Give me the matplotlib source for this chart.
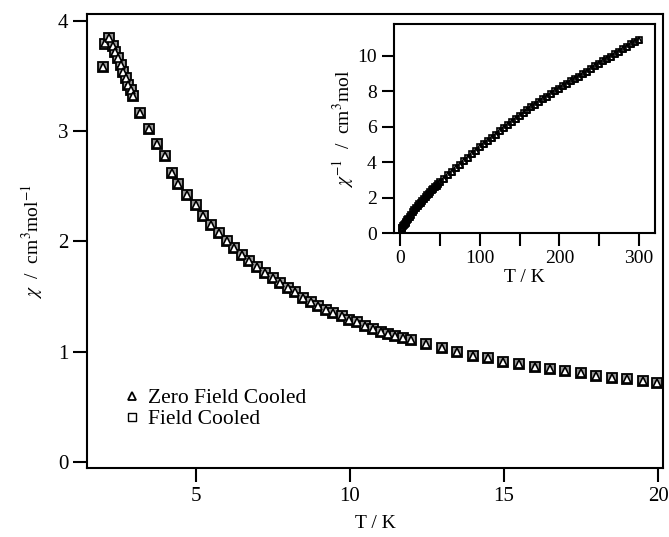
import matplotlib.pyplot as plt
from matplotlib.ticker import MultipleLocator

plt.rcParams['font.family'] = ['Liberation Serif', 'DejaVu Serif']
plt.rcParams['mathtext.fontset'] = 'stix'

# main plot: chi vs T (K)
temp = [1.98, 2.05, 2.18, 2.30, 2.37, 2.48, 2.55, 2.64, 2.73, 2.80, 2.88, 2.94,
        3.18, 3.48, 3.72, 3.99, 4.21, 4.43, 4.70, 5.00, 5.24, 5.49, 5.75, 6.00,
        6.23, 6.48, 6.73, 6.99, 7.24, 7.49, 7.73, 7.98, 8.21, 8.48, 8.72, 8.97,
        9.22, 9.46, 9.73, 9.98, 10.22, 10.49, 10.76, 11.00, 11.24, 11.46, 11.71,
        11.97, 12.47, 12.98, 13.48, 14.00, 14.49, 14.98, 15.50, 16.00, 16.49,
        16.98, 17.50, 18.00, 18.50, 19.00, 19.50, 19.98]
chi_zfc = [3.58, 3.80, 3.84, 3.77, 3.72, 3.66, 3.60, 3.54, 3.48, 3.42, 3.37, 3.32,
           3.16, 3.02, 2.88, 2.77, 2.62, 2.52, 2.42, 2.33, 2.23, 2.15, 2.08, 2.00,
           1.94, 1.88, 1.82, 1.77, 1.71, 1.67, 1.62, 1.58, 1.54, 1.49, 1.45, 1.41,
           1.38, 1.35, 1.32, 1.29, 1.27, 1.23, 1.21, 1.18, 1.16, 1.14, 1.12,
           1.11, 1.07, 1.03, 1.00, 0.965, 0.94, 0.91, 0.89, 0.865, 0.845,
           0.825, 0.805, 0.78, 0.76, 0.75, 0.737, 0.72]
chi_fc = [3.58, 3.79, 3.84, 3.77, 3.72, 3.66, 3.60, 3.54, 3.48, 3.42, 3.37, 3.32,
          3.16, 3.02, 2.88, 2.77, 2.62, 2.52, 2.42, 2.33, 2.23, 2.15, 2.08, 2.00,
          1.94, 1.88, 1.82, 1.77, 1.71, 1.67, 1.62, 1.58, 1.54, 1.49, 1.45, 1.41,
          1.38, 1.35, 1.32, 1.29, 1.27, 1.23, 1.21, 1.18, 1.16, 1.14, 1.12,
          1.11, 1.07, 1.03, 1.00, 0.965, 0.94, 0.91, 0.89, 0.865, 0.845,
          0.825, 0.805, 0.78, 0.76, 0.75, 0.737, 0.72]

# inset: inverse chi vs T up to 300 K
temp_inv = [2, 3, 4, 5, 6, 7, 8, 9, 10, 12, 14, 16, 18, 20, 22, 24, 26, 28, 30,
            32, 34, 36, 38, 40, 42, 44, 46, 48, 50, 55, 60, 65, 70, 75, 80, 85,
            90, 95, 100, 105, 110, 115, 120, 125, 130, 135, 140, 145, 150, 155,
            160, 165, 170, 175, 180, 185, 190, 195, 200, 205, 210, 215, 220, 225,
            230, 235, 240, 245, 250, 255, 260, 265, 270, 275, 280, 285, 290, 295, 300]
inv_chi = [0.27, 0.31, 0.37, 0.43, 0.50, 0.57, 0.64, 0.71, 0.78, 0.91, 1.04, 1.16,
           1.28, 1.39, 1.50, 1.61, 1.72, 1.82, 1.92, 2.02, 2.12, 2.22, 2.31, 2.40,
           2.49, 2.58, 2.67, 2.76, 2.85, 3.05, 3.25, 3.45, 3.65, 3.85, 4.05, 4.25,
           4.44, 4.63, 4.83, 5.01, 5.19, 5.37, 5.55, 5.73, 5.91, 6.09, 6.27, 6.45,
           6.62, 6.78, 6.94, 7.09, 7.24, 7.39, 7.54, 7.69, 7.84, 7.98, 8.12, 8.26,
           8.40, 8.54, 8.68, 8.82, 8.96, 9.10, 9.24, 9.39, 9.53, 9.67, 9.81, 9.94,
           10.08, 10.22, 10.36, 10.49, 10.63, 10.77, 10.90]

fig = plt.figure(figsize=(6.69, 5.37), dpi=100)
ax = fig.add_axes([0.130, 0.1285, 0.861, 0.845])

ax.plot(temp, chi_fc, 's', ms=7, mfc='#999999', mec='black', mew=1.3, label='Field Cooled')
ax.plot(temp, chi_zfc, '^', ms=5.5, mfc='white', mec='black', mew=1.2, label='Zero Field Cooled')

ax.set_xlim(1.46, 20.16)
ax.set_ylim(-0.055, 4.06)
ax.xaxis.set_major_locator(MultipleLocator(5))
ax.yaxis.set_major_locator(MultipleLocator(1))
ax.tick_params(direction='out', length=10, width=1.5, labelsize=15)
for s in ax.spines.values():
    s.set_linewidth(1.5)
ax.set_xlabel('T / K', fontsize=14, labelpad=7)
ax.set_ylabel(r'$\chi$  /  cm$^{3}$mol$^{-1}$', fontsize=14, labelpad=9)

# legend with open markers, ZFC first
h_zfc = plt.Line2D([], [], ls='none', marker='^', ms=6, mfc='white', mec='black', mew=1.3)
h_fc = plt.Line2D([], [], ls='none', marker='s', ms=6, mfc='white', mec='black', mew=1.0)
ax.legend([h_zfc, h_fc], ['Zero Field Cooled', 'Field Cooled'], loc='upper left',
          bbox_to_anchor=(0.04, 0.2), frameon=False, fontsize=15.5,
          handletextpad=0.25, labelspacing=0.05, handlelength=1.0, borderpad=0)

# inset
ins = fig.add_axes([0.589, 0.566, 0.390, 0.389])
ins.plot(temp_inv, inv_chi, 's', ms=5, mfc='none', mec='black', mew=1.2)
ins.plot(temp_inv, inv_chi, '^', ms=5, mfc='none', mec='black', mew=1.2)
ins.set_xlim(-7.5, 320)
ins.set_ylim(0, 11.77)
ins.xaxis.set_major_locator(MultipleLocator(100))
ins.xaxis.set_minor_locator(MultipleLocator(50))
ins.yaxis.set_major_locator(MultipleLocator(2))
ins.tick_params(which='both', direction='out', length=9, width=1.5, labelsize=14)
for s in ins.spines.values():
    s.set_linewidth(1.5)
ins.set_xlabel('T / K', fontsize=14, labelpad=1)
ins.set_ylabel(r'$\chi^{-1}$  /  cm$^{3}$mol', fontsize=14, labelpad=1)

fig.savefig('out.png', dpi=100)
